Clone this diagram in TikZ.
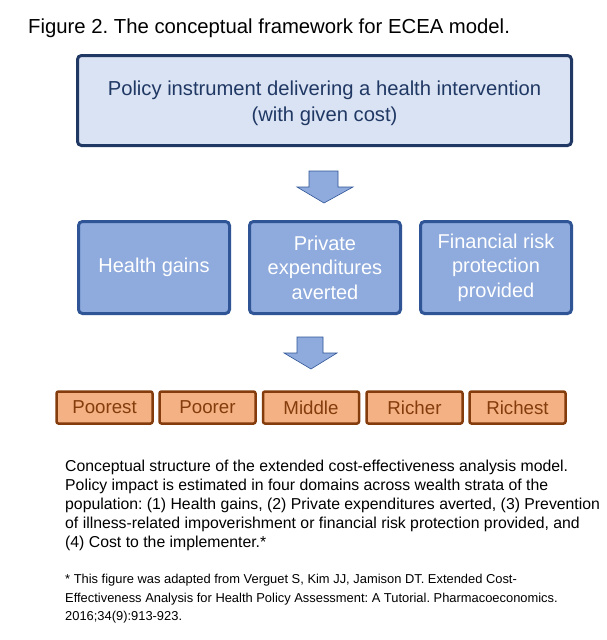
\documentclass[tikz,border=0pt]{standalone}
\usepackage{fontspec}
\setmainfont{Liberation Sans}
\frenchspacing
\definecolor{topfill}{HTML}{DAE3F3}
\definecolor{topline}{HTML}{203864}
\definecolor{midfill}{HTML}{8FAADC}
\definecolor{midline}{HTML}{2F5597}
\definecolor{lowfill}{HTML}{F4B183}
\definecolor{lowline}{HTML}{843C0C}
\begin{document}
\begin{tikzpicture}[x=1pt,y=-1pt]
\tikzstyle{every node}+=[inner sep=0pt]
\tikzstyle{topbox}=[draw=topline,fill=topfill,line width=3pt,rounded corners=4pt,
  minimum width=494pt,minimum height=90pt,align=center,text=topline,
  text height=46pt,font=\fontsize{20.2}{25.5}\selectfont]
\tikzstyle{midbox}=[draw=midline,fill=midfill,line width=3pt,rounded corners=4pt,
  minimum width=151pt,minimum height=92pt,align=center,text=white,
  font=\fontsize{20}{24.5}\selectfont]
\tikzstyle{lowbox}=[draw=lowline,fill=lowfill,line width=2.5pt,rounded corners=2pt,
  minimum width=96pt,minimum height=32pt,text=lowline,
  font=\fontsize{18.7}{20}\selectfont]
\tikzstyle{blockarrow}=[draw=midline,fill=midfill,line width=0.6pt]
\useasboundingbox (0,0) rectangle (607,640);
\fill[white] (0,0) rectangle (607,640);
\node[anchor=base west,font=\fontsize{20.3}{24}\selectfont] (title) at (28,33)
  {Figure 2. The conceptual framework for ECEA model.};
\node[topbox] (policy) at (324.5,100.5)
  {Policy instrument delivering a health intervention\\(with given cost)};
\draw[blockarrow] (309,171) -- (338,171) -- (338,187) -- (353,187) -- (324,203)
  -- (297,187) -- (309,187) -- cycle;
\node[midbox] (health) at (154,267.5) {Health gains};
\node[midbox] (private) at (325,267.5) {Private\\expenditures\\averted};
\node[midbox] (finrisk) at (496,267.5) {Financial risk\\protection\\provided};
\draw[blockarrow] (297,337) -- (323,337) -- (323,353) -- (337,353) -- (311,369)
  -- (284,353) -- (297,353) -- cycle;
\node[lowbox] (poorest) at (104.5,407.5) {Poorest};
\node[lowbox] (poorer) at (207.5,407.5) {Poorer};
\node[lowbox] (middle) at (311,407.5) {Middle};
\node[lowbox] (richer) at (414.5,407.5) {Richer};
\node[lowbox] (richest) at (517.5,407.5) {Richest};
\node[anchor=north west,align=left,font=\fontsize{15.8}{19}\selectfont] (caption) at (65,459.5)
  {Conceptual structure of the extended cost-effectiveness analysis model.\\
   Policy impact is estimated in four domains across wealth strata of the\\
   population: (1) Health gains, (2) Private expenditures averted, (3) Prevention\\
   of illness-related impoverishment or financial risk protection provided, and\\
   (4) Cost to the implementer.*};
\node[anchor=north west,align=left,font=\fontsize{12.9}{18.5}\selectfont] (note) at (65,574)
  {* This figure was adapted from Verguet S, Kim JJ, Jamison DT. Extended Cost-\\
   Effectiveness Analysis for Health Policy Assessment: A Tutorial. Pharmacoeconomics.\\
   2016;34(9):913-923.};
\end{tikzpicture}
\end{document}
